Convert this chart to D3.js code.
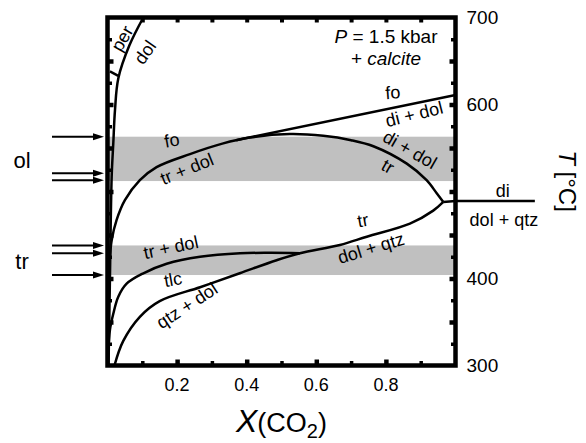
<!DOCTYPE html>
<html>
<head>
<meta charset="utf-8">
<script src="https://cdn.jsdelivr.net/npm/d3@7"></script>
<style>
  body { margin: 0; background: #fff; }
  svg { font-family: "Liberation Sans", Arial, sans-serif; }
</style>
</head>
<body>
<svg id="chart" width="586" height="443"></svg>
<script>
// ---- data (X(CO2), T in degC) ----
const xTickLabels = [0.2, 0.4, 0.6, 0.8];
const xMinorTicks = [0.1, 0.3, 0.5, 0.7, 0.9];
const tTickLabels = [300, 400, 600, 700];
const tMajorTicks = [350, 400, 450, 500, 550, 600, 650];
const tMinorTicks = [325, 375, 425, 475, 525, 575, 625, 675];

const bands = [[512, 563], [404, 438]];
const arrowT = [563, 521, 513, 438, 429, 404];

// per = dol
const perDol = [[0.003, 300], [0.007, 400], [0.012, 517], [0.0167, 556], [0.0216, 594],
  [0.031, 630], [0.063, 668], [0.103, 700]];
const perTick = [[0.007, 638], [0.031, 633]];
// fo / tr + dol, then di + dol / tr
const dome = [[0.002, 390], [0.007, 425], [0.012, 444], [0.026, 467], [0.05, 490],
  [0.093, 513], [0.141, 528], [0.237, 543], [0.33, 555], [0.409, 562], [0.524, 566],
  [0.62, 564], [0.70, 559], [0.764, 552], [0.86, 532], [0.917, 513], [0.946, 498], [0.965, 488]];
// fo / di + dol
const foLine = [[0.37, 559], [1.0, 611]];
// tr / dol + qtz  (and qtz + dol)
const trQtz = [[0.02, 300], [0.045, 328], [0.093, 356], [0.15, 374], [0.266, 390], [0.38, 406],
  [0.486, 421], [0.553, 429], [0.668, 438.5], [0.745, 448], [0.869, 463], [0.936, 478], [0.965, 488]];
// tr + dol / tlc
const tlcLine = [[0.001, 300], [0.002, 314], [0.007, 341], [0.017, 360], [0.031, 379], [0.055, 394],
  [0.103, 406], [0.17, 417], [0.266, 425], [0.381, 429], [0.47, 429.5], [0.553, 429]];
// invariant point and di / dol + qtz line
const diLine = [[0.965, 488], [1.0, 489], [1.228, 489]];

// field labels: text, X, T, angle
const fieldLabels = [
  ['per', 0.042, 676, -60],
  ['dol', 0.108, 660, -55],
  ['fo', 0.82, 614, -4],
  ['di + dol', 0.881, 589, -14],
  ['di + dol', 0.869, 548, 30],
  ['tr', 0.806, 529, 30],
  ['fo', 0.185, 559, -10],
  ['tr + dol', 0.228, 526, -22],
  ['tr + dol', 0.182, 436, -12],
  ['tlc', 0.188, 399, -10],
  ['qtz + dol', 0.228, 369, -33],
  ['tr', 0.734, 467, -10],
  ['dol + qtz', 0.757, 435, -17],
  ['di', 1.136, 501, 0],
  ['dol + qtz', 1.139, 468, 0]
];
const sideLabels = [['ol', 536], ['tr', 420]];

// ---- layout ----
const svg = d3.select('#chart');
const x = d3.scaleLinear().domain([0, 1]).range([107.5, 455.5]);
const y = d3.scaleLinear().domain([300, 700]).range([365.5, 17.5]);

const line = d3.line()
  .x(d => x(d[0]))
  .y(d => y(d[1]))
  .curve(d3.curveCatmullRom.alpha(0.5));

// grey bands
svg.append('g').selectAll('rect')
  .data(bands)
  .enter().append('rect')
  .attr('x', x(0))
  .attr('width', x(1) - x(0))
  .attr('y', d => y(d[1]))
  .attr('height', d => y(d[0]) - y(d[1]))
  .attr('fill', '#c0c0c0');

// curves
const curves = svg.append('g')
  .attr('fill', 'none')
  .attr('stroke', '#000')
  .attr('stroke-width', 2.5)
  .attr('stroke-linejoin', 'round');
[perDol, perTick, dome, foLine, trQtz, tlcLine].forEach(c => {
  curves.append('path').attr('d', line(c));
});
curves.append('path')
  .attr('d', d3.line().x(d => x(d[0])).y(d => y(d[1]))(diLine));

// axis ticks (inward)
function tickAxis(axis, vals, len, w, tr) {
  const g = svg.append('g')
    .attr('transform', tr)
    .call(axis.tickValues(vals).tickSize(-len).tickFormat(''));
  g.select('.domain').remove();
  g.selectAll('line').attr('stroke', '#000').attr('stroke-width', w);
  return g;
}
tickAxis(d3.axisBottom(x), xTickLabels, 6, 4.5, `translate(0,${y(300)})`);
tickAxis(d3.axisBottom(x), xMinorTicks, 4.5, 3.5, `translate(0,${y(300)})`);
tickAxis(d3.axisTop(x), xTickLabels.concat(xMinorTicks), 5, 4, `translate(0,${y(700)})`);
tickAxis(d3.axisLeft(y), tMajorTicks, 6, 4.5, `translate(${x(0)},0)`);
tickAxis(d3.axisLeft(y), tMinorTicks, 4.5, 3.5, `translate(${x(0)},0)`);
tickAxis(d3.axisRight(y), tMajorTicks, 6, 4.5, `translate(${x(1)},0)`);
tickAxis(d3.axisRight(y), tMinorTicks, 4.5, 3.5, `translate(${x(1)},0)`);

// frame
svg.append('rect')
  .attr('x', x(0)).attr('y', y(700))
  .attr('width', x(1) - x(0)).attr('height', y(300) - y(700))
  .attr('fill', 'none').attr('stroke', '#000').attr('stroke-width', 4.5);

// tick labels
svg.append('g').selectAll('text')
  .data(xTickLabels)
  .enter().append('text')
  .attr('x', d => x(d)).attr('y', y(300) + 25)
  .attr('text-anchor', 'middle')
  .attr('font-size', 18)
  .text(d3.format('.1f'));
svg.append('g').selectAll('text')
  .data(tTickLabels)
  .enter().append('text')
  .attr('x', x(1) + 11).attr('y', d => y(d))
  .attr('dy', '0.36em')
  .attr('font-size', 19)
  .text(d => d);

// field labels
svg.append('g').selectAll('text')
  .data(fieldLabels)
  .enter().append('text')
  .attr('transform', d => `translate(${x(d[1])},${y(d[2])}) rotate(${d[3]})`)
  .attr('text-anchor', 'middle')
  .attr('dy', '0.35em')
  .attr('font-size', 18)
  .text(d => d[0]);

// pressure note
const note = svg.append('g').attr('font-size', 19).attr('text-anchor', 'middle');
const n1 = note.append('text').attr('x', 386).attr('y', 43);
n1.append('tspan').attr('font-style', 'italic').text('P');
n1.append('tspan').text(' = 1.5 kbar');
const n2 = note.append('text').attr('x', 386).attr('y', 65);
n2.append('tspan').text('+ ');
n2.append('tspan').attr('font-style', 'italic').text('calcite');

// arrows on the left
const arrows = svg.append('g');
arrowT.forEach(t => {
  const yy = y(t);
  arrows.append('line')
    .attr('x1', 52).attr('x2', 96).attr('y1', yy).attr('y2', yy)
    .attr('stroke', '#000').attr('stroke-width', 2);
  arrows.append('path')
    .attr('d', `M104,${yy}L93,${yy - 3.5}L93,${yy + 3.5}Z`)
    .attr('fill', '#000');
});
svg.append('g').selectAll('text')
  .data(sideLabels)
  .enter().append('text')
  .attr('x', 22).attr('y', d => y(d[1]))
  .attr('dy', '0.35em')
  .attr('text-anchor', 'middle')
  .attr('font-size', 22)
  .text(d => d[0]);

// axis titles
const xt = svg.append('text').attr('x', 236).attr('y', 432);
xt.append('tspan').attr('font-style', 'italic').attr('font-size', 32).text('X');
xt.append('tspan').attr('font-size', 27).text('(CO');
xt.append('tspan').attr('font-size', 20).attr('dy', 6).text('2');
xt.append('tspan').attr('font-size', 27).attr('dy', -6).text(')');

const yt = svg.append('text')
  .attr('transform', 'translate(559,181) rotate(90)')
  .attr('text-anchor', 'middle')
  .attr('font-size', 24);
yt.append('tspan').attr('font-style', 'italic').text('T');
yt.append('tspan').text(' [°C]');
</script>
</body>
</html>
